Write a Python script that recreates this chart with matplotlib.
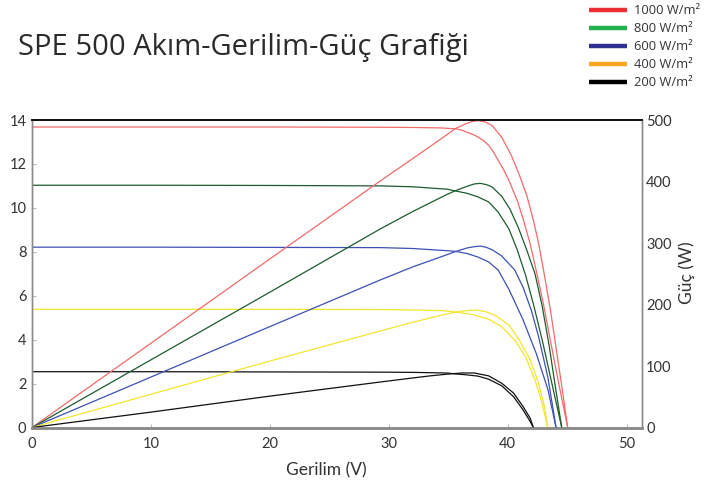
import matplotlib
matplotlib.use("Agg")
import matplotlib.pyplot as plt
from matplotlib.lines import Line2D

# ---------------- data ----------------
x_ticks = [0, 10, 20, 30, 40, 50]
y_left_ticks = [0, 2, 4, 6, 8, 10, 12, 14]
y_right_ticks = [0, 100, 200, 300, 400, 500]

legend_labels = ["1000 W/m²", "800 W/m²", "600 W/m²", "400 W/m²", "200 W/m²"]

# 1000 W/m2
v_iv_1000 = [0, 10, 20, 29.3, 32, 34.3, 35.6, 36.2, 36.7, 37.1, 37.5, 38.0, 38.4, 38.8, 39.2, 39.65, 40.1, 40.8, 41.3, 41.9, 42.4, 43.0, 43.6, 44.3, 45.05]
i_1000 = [13.68, 13.68, 13.68, 13.67, 13.66, 13.64, 13.60, 13.53, 13.42, 13.34, 13.23, 13.05, 12.85, 12.55, 12.17, 11.75, 11.26, 10.35, 9.50, 8.35, 7.15, 5.65, 3.95, 2.00, 0]
v_p_1000 = [0, 10, 20, 29.3, 32, 34.3, 35.6, 36.5, 37.0, 37.5, 38.1, 38.7, 39.5, 40.3, 41.0, 41.6, 42.2, 42.6, 43.0, 43.6, 44.1, 44.6, 45.05]
p_1000 = [0, 137, 274, 401, 437, 468, 486, 494, 497.5, 499, 497, 491, 472, 443, 410, 378, 334, 300, 258, 191, 126, 61, 0]

# 800 W/m2
v_iv_800 = [0, 10, 20, 29.3, 32, 34.9, 35.6, 36.6, 37.5, 38.4, 39.2, 40.1, 40.8, 41.5, 42.2, 42.9, 43.6, 44.55]
i_800 = [11.03, 11.03, 11.02, 11.00, 10.96, 10.85, 10.77, 10.66, 10.50, 10.27, 9.81, 9.05, 8.10, 6.95, 5.55, 4.00, 2.30, 0]
v_p_800 = [0, 10, 20, 29.3, 32, 34.9, 35.6, 36.7, 37.2, 37.7, 38.2, 38.7, 39.5, 40.2, 40.9, 41.6, 42.3, 42.9, 43.5, 44.0, 44.55]
p_800 = [0, 110, 220, 323, 351, 379, 385, 393, 396, 397, 395, 391, 376, 355, 325, 289, 250, 198, 132, 68, 0]

# 600 W/m2
v_iv_600 = [0, 10, 20, 29.3, 32, 34.9, 35.6, 36.6, 37.5, 38.4, 39.2, 40.1, 41.3, 42.4, 43.4, 44.07]
i_600 = [8.21, 8.21, 8.20, 8.19, 8.15, 8.05, 8.02, 7.92, 7.76, 7.54, 7.17, 6.30, 4.90, 3.38, 1.71, 0]
v_p_600 = [0, 10, 20, 29.3, 32, 34.9, 35.6, 36.6, 37.2, 37.7, 38.2, 38.7, 39.5, 40.6, 41.3, 42.0, 42.6, 43.4, 44.07]
p_600 = [0, 82, 164, 240, 261, 281, 286, 292, 294, 295, 293, 289, 279, 256, 228, 190, 148, 80, 0]

# 400 W/m2
v_iv_400 = [0, 10, 20, 29.3, 32, 34.5, 35.6, 37.0, 38.4, 39.5, 40.6, 41.5, 42.3, 42.9, 43.37]
i_400 = [5.38, 5.38, 5.38, 5.37, 5.35, 5.32, 5.26, 5.15, 4.93, 4.59, 3.98, 3.22, 2.16, 1.10, 0]
v_p_400 = [0, 10, 20, 29.3, 32, 34.5, 35.6, 36.5, 37.4, 38.2, 38.9, 40.1, 41.0, 41.9, 42.6, 43.1, 43.37]
p_400 = [0, 54, 108, 157, 171, 183, 187.5, 190, 191, 188, 183, 167, 142, 110, 72, 34, 0]

# 200 W/m2
v_iv_200 = [0, 10, 20, 29.3, 32, 34.9, 35.6, 36.5, 37.5, 38.4, 39.5, 40.5, 41.3, 41.9, 42.16]
i_200 = [2.54, 2.54, 2.53, 2.52, 2.51, 2.48, 2.44, 2.40, 2.34, 2.20, 1.90, 1.40, 0.80, 0.27, 0]
v_p_200 = [0, 10, 20, 29.3, 32, 33.5, 34.9, 36.2, 37.2, 38.4, 39.5, 40.5, 41.3, 41.9, 42.16]
p_200 = [0, 25, 51, 74, 80.5, 84, 86.7, 88.7, 88.6, 84, 72, 56, 34, 15, 0]

# ---------------- styling ----------------
line_colors = ["#f26a6a", "#1d5c2e", "#3d50b6", "#f2e62e", "#111111"]
legend_colors = ["#ee2d35", "#22b14c", "#2e3192", "#f7a51c", "#000000"]
txt = "#333333"
tick_font = "Lato"

W, H = 723, 486
fig = plt.figure(figsize=(W / 100, H / 100), dpi=100)
ax = fig.add_axes([32 / W, (H - 427.5) / H, 610 / W, 307.5 / H])
ax2 = ax.twinx()

iv_sets = [(v_iv_1000, i_1000), (v_iv_800, i_800), (v_iv_600, i_600), (v_iv_400, i_400), (v_iv_200, i_200)]
p_sets = [(v_p_1000, p_1000), (v_p_800, p_800), (v_p_600, p_600), (v_p_400, p_400), (v_p_200, p_200)]

for (v, i), c in zip(iv_sets, line_colors):
    ax.plot(v, i, color=c, lw=0.9, solid_joinstyle="round")
for (v, p), c in zip(p_sets, line_colors):
    ax2.plot(v, p, color=c, lw=0.9, solid_joinstyle="round")

ax.set_xlim(0, 51.3)
ax.set_ylim(0, 14)
ax2.set_ylim(0, 500)
ax.set_xticks(x_ticks)
ax.set_yticks(y_left_ticks)
ax2.set_yticks(y_right_ticks)

for a in (ax, ax2):
    for s in a.spines.values():
        s.set_color("#8a8a8a")
        s.set_linewidth(1.0)
    a.spines["top"].set_color("#111111")
    a.spines["top"].set_linewidth(1.3)
    a.spines["bottom"].set_linewidth(1.8)

ax.tick_params(axis="x", direction="in", length=3, color="#bbbbbb", pad=7,
               labelsize=10.5, labelcolor=txt)
ax.tick_params(axis="y", direction="in", length=3, color="#bbbbbb", pad=4,
               labelsize=10.5, labelcolor=txt)
ax2.tick_params(axis="y", direction="in", length=0, pad=3,
                labelsize=10.5, labelcolor=txt)
for lab in ax.get_xticklabels() + ax.get_yticklabels() + ax2.get_yticklabels():
    lab.set_fontfamily(tick_font)

fig.text(326 / W, 1 - 470 / H, "Gerilim (V)", ha="center", va="center",
         fontsize=12.5, color=txt, family=tick_font)
fig.text(687 / W, 1 - 273 / H, "Güç (W)", ha="center", va="center", rotation=90,
         fontsize=12.5, color=txt, family=tick_font)

fig.text(18 / W, 1 - 47 / H, "SPE 500 Akım-Gerilim-Güç Grafiği", ha="left", va="center",
         fontsize=21, color="#2b2b2b", family="Open Sans")

# legend (figure level)
for k, (lab, c) in enumerate(zip(legend_labels, legend_colors)):
    y = 1 - (10 + 18 * k) / H
    fig.add_artist(Line2D([589 / W, 627 / W], [y, y], color=c, lw=3.2,
                          transform=fig.transFigure, solid_capstyle="butt"))
    fig.text(634 / W, y, lab, ha="left", va="center", fontsize=9.3,
             color=txt, family="Open Sans")

fig.savefig("out.png", dpi=100)
